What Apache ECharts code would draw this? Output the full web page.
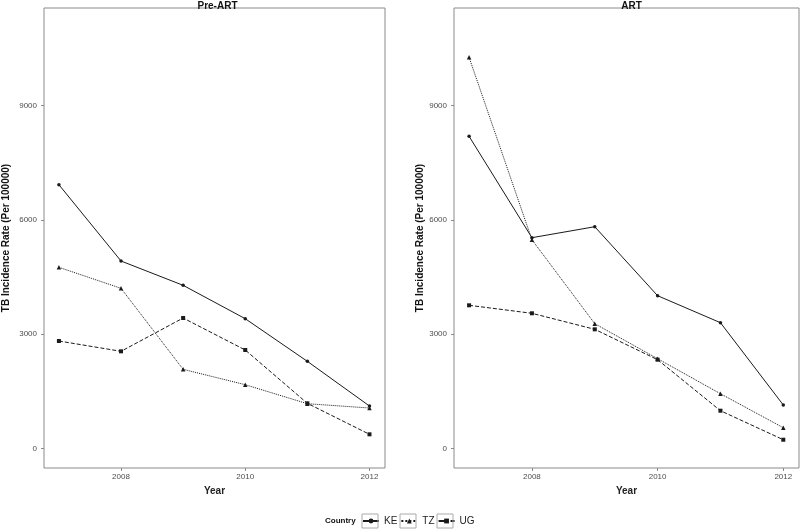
<!DOCTYPE html>
<html>
<head>
<meta charset="utf-8">
<script src="https://cdn.jsdelivr.net/npm/echarts@6/dist/echarts.min.js"></script>
<style>html,body{margin:0;padding:0;background:#fff}#c{width:800px;height:530px}</style>
</head>
<body>
<div id="c"></div>
<script>
// ---- data ----
const years = [2007, 2008, 2009, 2010, 2011, 2012];
const panels = ['Pre-ART', 'ART'];
const countries = ['KE', 'TZ', 'UG'];
const preKE = [6925, 4920, 4282, 3405, 2285, 1111];
const preTZ = [4755, 4203, 2075, 1671, 1172, 1059];
const preUG = [2819, 2548, 3423, 2583, 1182, 368];
const artKE = [8196, 5533, 5821, 4009, 3300, 1138];
const artTZ = [10271, 5480, 3274, 2354, 1434, 541];
const artUG = [3757, 3547, 3126, 2328, 988, 226];
const xTicks = [2008, 2010, 2012];
const yTicks = [0, 3000, 6000, 9000];
const yTitle = 'TB Incidence Rate (Per 100000)';
const xTitle = 'Year';
const legendTitle = 'Country';

const panelData = [[preKE, preTZ, preUG], [artKE, artTZ, artUG]];
const lineTypes = ['solid', 'dotted', 'dashed'];
const symbols = ['circle', 'triangle', 'rect'];
const symbolSizes = [3.5, 4.5, 4];
const ink = '#1a1a1a';
const narrow = '"Liberation Sans Narrow", "Liberation Sans", Arial, sans-serif';
const sans = '"Liberation Sans", Arial, sans-serif';

const grids = [
  {left: 40, top: 8, width: 345, height: 460},
  {left: 454, top: 8, width: 345, height: 460}
];

const chart = echarts.init(document.getElementById('c'));
const xAxes = [], yAxes = [], series = [], titles = [];
grids.forEach((g, i) => {
  g.show = true; g.borderColor = '#8a8a8a'; g.borderWidth = 1; g.backgroundColor = '#fff';
  xAxes.push({
    type: 'value', gridIndex: i, min: 2006.76, max: 2012.25, position: 'bottom',
    name: xTitle, nameLocation: 'middle', nameGap: 13,
    nameTextStyle: {fontFamily: sans, fontWeight: 'bold', fontSize: 10, color: '#222'},
    axisLine: {show: false, onZero: false}, splitLine: {show: false},
    axisTick: {show: true, length: 3, inside: false, customValues: xTicks, lineStyle: {color: '#8a8a8a'}},
    axisLabel: {customValues: xTicks, margin: 5, fontSize: 8, fontFamily: sans, color: '#4d4d4d',
                formatter: v => String(v)}
  });
  yAxes.push({
    type: 'value', gridIndex: i, min: -517, max: 11567, position: 'left',
    name: yTitle, nameLocation: 'middle', nameGap: i === 0 ? 33 : 27, nameRotate: 90,
    nameTextStyle: {fontFamily: narrow, fontWeight: 'bold', fontSize: 10, color: '#111'},
    axisLine: {show: false, onZero: false}, splitLine: {show: false},
    axisTick: {show: true, length: 3, customValues: yTicks, lineStyle: {color: '#8a8a8a'}},
    axisLabel: {customValues: yTicks, margin: 7, fontSize: 8, fontFamily: sans, color: '#4d4d4d',
                formatter: v => String(v)}
  });
  titles.push({
    text: panels[i], left: g.left + g.width / 2, top: -4, textAlign: 'center',
    textStyle: {fontFamily: sans, fontWeight: 'bold', fontSize: 10, color: '#111'}
  });
  countries.forEach((c, k) => {
    series.push({
      name: c, type: 'line', xAxisIndex: i, yAxisIndex: i,
      data: years.map((y, j) => [y, panelData[i][k][j]]),
      symbol: symbols[k], symbolSize: symbolSizes[k], showAllSymbol: true,
      lineStyle: {color: ink, width: 1, type: lineTypes[k]},
      itemStyle: {color: ink},
      emphasis: {disabled: true}, animation: false
    });
  });
});

const boxes = [362, 400, 437].map(x => ({
  type: 'rect', shape: {x: x, y: 514, width: 16, height: 14},
  style: {fill: 'none', stroke: '#aaa', lineWidth: 1}, z: 100
}));

chart.setOption({
  animation: false,
  title: titles,
  grid: grids,
  xAxis: xAxes,
  yAxis: yAxes,
  series: series,
  legend: {
    data: countries, left: 362, top: 516, itemWidth: 16, itemHeight: 6, itemGap: 3,
    textStyle: {fontFamily: sans, fontSize: 10, color: '#222'},
    padding: 0, selectedMode: false
  },
  graphic: [
    {type: 'text', left: 325, top: 517,
     style: {text: legendTitle, font: 'bold 8px "Liberation Sans", Arial, sans-serif', fill: '#111'}}
  ].concat(boxes)
});
</script>
</body>
</html>
